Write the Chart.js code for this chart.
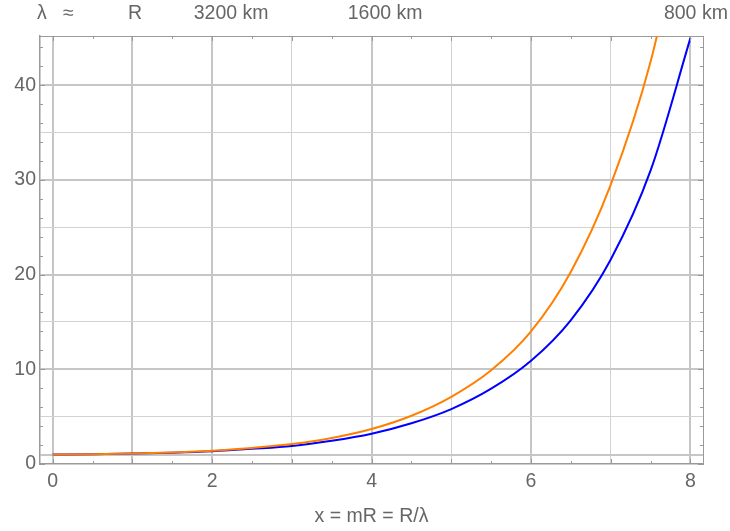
<!DOCTYPE html>
<html>
<head>
<meta charset="utf-8">
<script src="https://cdn.jsdelivr.net/npm/chart.js@4/dist/chart.umd.min.js"></script>
<style>
  html, body { margin: 0; padding: 0; background: #fff; }
  #wrap { width: 730px; height: 531px; }
</style>
</head>
<body>
<div id="wrap"><canvas id="chart" width="730" height="531"></canvas></div>
<script>
// curve samples
const xs = [0, 0.5, 1, 1.5, 2, 2.5, 3, 3.5, 4, 4.5, 5, 5.5, 6, 6.5, 7, 7.5, 8];
const orangeY = [1.0, 1.03, 1.1, 1.22, 1.4, 1.7, 2.1, 2.75, 3.7, 5.1, 7.1, 9.9, 14.0, 20.3, 29.5, 42.5, 61.5];
const blueY = [1.0, 1.03, 1.1, 1.2, 1.35, 1.6, 1.9, 2.45, 3.2, 4.3, 5.8, 7.95, 10.9, 15.2, 21.6, 31, 45];

// axes
const xLabelValues = [0, 2, 4, 6, 8];
const topTickValues = [0, 1, 2, 4, 8];
// leading spaces nudge the labels to where they sit in the original
const topTickLabels = [' λ   ≈', ' R', '       3200 km', '     1600 km', '  800 km'];
const yLabelValues = [0, 10, 20, 30, 40];
const xGridMajor = [0, 1, 2, 4, 6, 8];
const xGridMinor = [3, 5, 7];
const yGridMajor = [1, 10, 20, 30, 40];
const yGridMinor = [5, 15, 25, 35];
const xTickMarks = [0, 0.5, 1, 1.5, 2, 2.5, 3, 3.5, 4, 4.5, 5, 5.5, 6, 6.5, 7, 7.5, 8];
const yTickMarks = [0, 2, 4, 6, 8, 10, 12, 14, 16, 18, 20, 22, 24, 26, 28, 30, 32, 34, 36, 38, 40, 42, 44];

const FONT = { family: "'Liberation Sans', Arial, sans-serif", size: 19.5 };
const TEXT = '#666666';
const FRAME = '#9a9a9a';

const toPoints = ys => xs.map((x, i) => ({ x: x, y: ys[i] }));

function gridColor(major, minor) {
  return ctx => {
    const v = ctx.tick && ctx.tick.value;
    if (major.includes(v)) return '#c6c6c6';
    if (minor.includes(v)) return '#d2d2d2';
    return 'rgba(0,0,0,0)';
  };
}
function gridWidth(major) {
  return ctx => (major.includes(ctx.tick && ctx.tick.value) ? 2 : 1);
}

// inward tick marks on all four sides of the frame
const frameTicks = {
  id: 'frameTicks',
  afterDatasetsDraw(chart) {
    const { ctx, chartArea: a, scales } = chart;
    ctx.save();
    ctx.strokeStyle = FRAME;
    ctx.lineWidth = 1;
    ctx.beginPath();
    xTickMarks.forEach(v => {
      const px = Math.round(scales.x.getPixelForValue(v)) + 0.5;
      const len = Number.isInteger(v) ? 5 : 3;
      ctx.moveTo(px, a.bottom); ctx.lineTo(px, a.bottom - len);
      ctx.moveTo(px, a.top); ctx.lineTo(px, a.top + len);
    });
    yTickMarks.forEach(v => {
      const py = Math.round(scales.y.getPixelForValue(v)) + 0.5;
      const len = v % 10 === 0 ? 5 : 3;
      ctx.moveTo(a.left, py); ctx.lineTo(a.left + len, py);
      ctx.moveTo(a.right, py); ctx.lineTo(a.right - len, py);
    });
    ctx.stroke();
    ctx.restore();
  }
};

// keep the plot frame fixed whatever the edge labels overhang
const fixH = h => s => { s.height = h; s.paddingLeft = 0; s.paddingRight = 0; };

new Chart(document.getElementById('chart'), {
  type: 'scatter',
  data: {
    datasets: [
      {
        data: toPoints(orangeY),
        showLine: true,
        borderColor: '#ff8000',
        borderWidth: 2,
        pointRadius: 0,
        cubicInterpolationMode: 'monotone'
      },
      {
        data: toPoints(blueY),
        showLine: true,
        borderColor: '#0000ff',
        borderWidth: 2,
        pointRadius: 0,
        cubicInterpolationMode: 'monotone'
      }
    ]
  },
  options: {
    responsive: false,
    animation: false,
    layout: { padding: { left: 0, right: 27, top: 0, bottom: 0 } },
    plugins: { legend: { display: false }, tooltip: { enabled: false } },
    scales: {
      x: {
        type: 'linear',
        position: 'bottom',
        min: -0.159,
        max: 8.157,
        afterBuildTicks: s => { s.ticks = [0, 1, 2, 3, 4, 5, 6, 7, 8].map(v => ({ value: v })); },
        afterFit: fixH(67),
        grid: {
          drawTicks: false,
          color: gridColor(xGridMajor, xGridMinor),
          lineWidth: gridWidth(xGridMajor)
        },
        border: { display: true, color: FRAME, width: 1.5 },
        ticks: {
          padding: 6,
          maxRotation: 0,
          autoSkip: false,
          color: TEXT,
          font: FONT,
          callback: v => (xLabelValues.includes(v) ? String(v) : '')
        },
        title: {
          display: true,
          text: 'x = mR = R/λ',
          color: TEXT,
          font: FONT,
          padding: { top: 0, bottom: 3 }
        }
      },
      x2: {
        type: 'linear',
        position: 'top',
        min: -0.159,
        max: 8.157,
        afterBuildTicks: s => { s.ticks = topTickValues.map(v => ({ value: v })); },
        afterFit: fixH(36),
        grid: { display: false, drawTicks: false },
        border: { display: true, color: FRAME, width: 1 },
        ticks: {
          padding: 11,
          maxRotation: 0,
          autoSkip: false,
          color: TEXT,
          font: FONT,
          callback: v => topTickLabels[topTickValues.indexOf(v)]
        }
      },
      y: {
        type: 'linear',
        position: 'left',
        min: 0,
        max: 45.2,
        afterBuildTicks: s => {
          s.ticks = [0].concat(yGridMajor, yGridMinor).sort((a, b) => a - b).map(v => ({ value: v }));
        },
        afterFit: s => { s.width = 40; s.paddingTop = 0; s.paddingBottom = 0; },
        grid: {
          drawTicks: false,
          color: gridColor(yGridMajor, yGridMinor),
          lineWidth: gridWidth(yGridMajor)
        },
        border: { display: true, color: FRAME, width: 1.5 },
        ticks: {
          padding: 4,
          autoSkip: false,
          color: TEXT,
          font: FONT,
          callback: v => (yLabelValues.includes(v) ? String(v) : '')
        }
      },
      y2: {
        type: 'linear',
        position: 'right',
        min: 0,
        max: 45.2,
        afterFit: s => { s.width = 0; s.paddingTop = 0; s.paddingBottom = 0; },
        grid: { display: false, drawTicks: false },
        border: { display: true, color: FRAME, width: 1 },
        ticks: { display: false }
      }
    }
  },
  plugins: [frameTicks]
});
</script>
</body>
</html>
